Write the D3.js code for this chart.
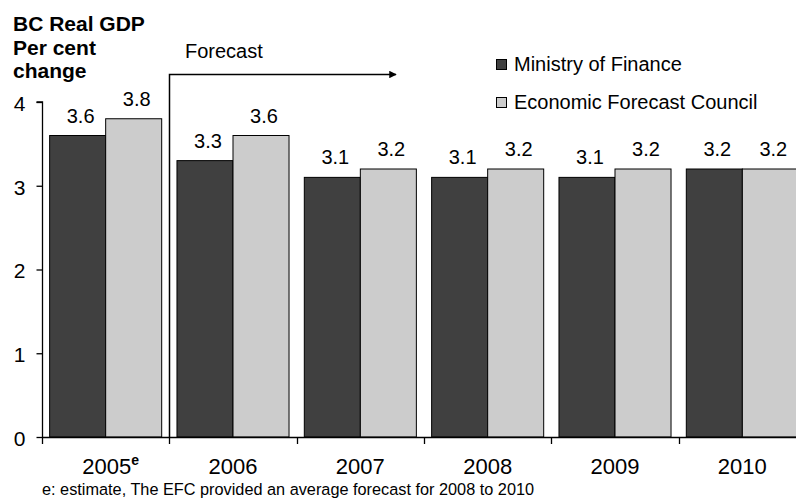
<!DOCTYPE html>
<html>
<head>
<meta charset="utf-8">
<script src="https://cdn.jsdelivr.net/npm/d3@7"></script>
<style>
  html, body { margin: 0; padding: 0; background: #fff; }
  svg { display: block; font-family: "Liberation Sans", Arial, sans-serif; }
</style>
</head>
<body>
<svg id="chart" width="796" height="499"></svg>
<script>
// BC Real GDP growth forecasts, per cent change
const years = ["2005", "2006", "2007", "2008", "2009", "2010"];
const ministryOfFinance = [3.6, 3.3, 3.1, 3.1, 3.1, 3.2];
const economicForecastCouncil = [3.8, 3.6, 3.2, 3.2, 3.2, 3.2];
const seriesNames = ["Ministry of Finance", "Economic Forecast Council"];
const yTicks = [0, 1, 2, 3, 4];
const footnote = "e: estimate, The EFC provided an average forecast for 2008 to 2010";

const colors = ["#404040", "#cccccc"];
const svg = d3.select("#chart");

const x0 = 42, x1 = 806, yTop = 102, yBottom = 437;

const x = d3.scaleBand().domain(years).range([x0, x1])
  .paddingInner(0.12).paddingOuter(0.06);
const xSub = d3.scaleBand().domain([0, 1]).range([0, x.bandwidth()]);
const y = d3.scaleLinear().domain([0, 4]).range([yBottom, yTop]);

const rows = years.map((yr, i) => ({
  year: yr,
  values: [ministryOfFinance[i], economicForecastCouncil[i]]
}));

// Bars
const groups = svg.append("g").selectAll("g").data(rows).join("g")
  .attr("transform", d => `translate(${x(d.year)},0)`);

groups.selectAll("rect").data(d => d.values).join("rect")
  .attr("x", (d, i) => xSub(i))
  .attr("y", d => y(d))
  .attr("width", xSub.bandwidth())
  .attr("height", d => y(0) - y(d))
  .attr("fill", (d, i) => colors[i])
  .attr("stroke", "#000")
  .attr("stroke-width", 1);

// Value labels
groups.selectAll("text").data(d => d.values).join("text")
  .attr("x", (d, i) => xSub(i) + xSub.bandwidth() / 2 + 3)
  .attr("y", d => y(d) - 13)
  .attr("text-anchor", "middle")
  .attr("font-size", 20)
  .attr("fill", "#000")
  .text(d => d3.format(".1f")(d));

// Y axis
const yAxis = svg.append("g").attr("transform", `translate(${x0 + 0.5},0)`)
  .call(d3.axisLeft(y).tickValues(yTicks).tickSize(6).tickPadding(11).tickFormat(d3.format("d")));
yAxis.select(".domain").attr("stroke", "#000").attr("stroke-width", 1.3)
  .attr("d", `M-6,${yTop}H0V${yBottom}`);
yAxis.selectAll(".tick line").attr("stroke", "#000").attr("stroke-width", 1.3);
yAxis.selectAll(".tick text").attr("font-size", 21).attr("fill", "#000")
  .attr("font-family", "Liberation Sans, Arial, sans-serif").attr("dy", "0.4em");

// X axis baseline with tick marks at category boundaries
const step = x.step();
const xAxis = svg.append("g");
xAxis.append("line")
  .attr("x1", x0).attr("x2", 796).attr("y1", yBottom + 0.5).attr("y2", yBottom + 0.5)
  .attr("stroke", "#000").attr("stroke-width", 1.6);
xAxis.selectAll("line.tick").data(years).join("line").attr("class", "tick")
  .attr("x1", (d, i) => Math.round(x0 + i * step) + 0.5)
  .attr("x2", (d, i) => Math.round(x0 + i * step) + 0.5)
  .attr("y1", yBottom).attr("y2", yBottom + 7)
  .attr("stroke", "#000").attr("stroke-width", 1.3);

const xLabels = xAxis.selectAll("text").data(years).join("text")
  .attr("x", d => x(d) + x.bandwidth() / 2 + (d === "2005" ? 5 : 0))
  .attr("y", 474)
  .attr("text-anchor", "middle")
  .attr("font-size", 22)
  .attr("fill", "#000");
xLabels.append("tspan").text(d => d);
xLabels.filter(d => d === "2005").append("tspan")
  .attr("font-size", 14).attr("font-weight", "bold").attr("dy", -9).text("e");

// Forecast marker: vertical divider and arrow
const fx = Math.round(x0 + step) + 0.5;
const defs = svg.append("defs");
defs.append("marker").attr("id", "arrow")
  .attr("viewBox", "0 0 10 10").attr("refX", 9).attr("refY", 5)
  .attr("markerWidth", 6).attr("markerHeight", 5).attr("orient", "auto")
  .attr("markerUnits", "strokeWidth")
  .append("path").attr("d", "M0,0L10,5L0,10Z").attr("fill", "#000");
svg.append("path")
  .attr("d", `M${fx},${yBottom}V74.5H396`)
  .attr("fill", "none").attr("stroke", "#000").attr("stroke-width", 1.5)
  .attr("marker-end", "url(#arrow)");
svg.append("text").attr("x", 185).attr("y", 58)
  .attr("font-size", 20).attr("fill", "#000").text("Forecast");

// Title
const title = svg.append("text").attr("x", 13).attr("font-size", 21)
  .attr("font-weight", "bold").attr("fill", "#000");
["BC Real GDP", "Per cent", "change"].forEach((t, i) => {
  title.append("tspan").attr("x", 13).attr("y", 31 + i * 23.5).text(t);
});

// Legend
const legend = svg.append("g").selectAll("g").data(seriesNames).join("g")
  .attr("transform", (d, i) => `translate(496,${59 + i * 38})`);
legend.append("rect").attr("x", 0.5).attr("y", 0.5).attr("width", 10).attr("height", 10)
  .attr("fill", (d, i) => colors[i]).attr("stroke", "#000").attr("stroke-width", 1);
legend.append("text").attr("x", 18).attr("y", 11.5)
  .attr("font-size", 20).attr("fill", "#000").text(d => d);

// Footnote
svg.append("text").attr("x", 42).attr("y", 495)
  .attr("font-size", 16.3).attr("fill", "#000").text(footnote);
</script>
</body>
</html>
